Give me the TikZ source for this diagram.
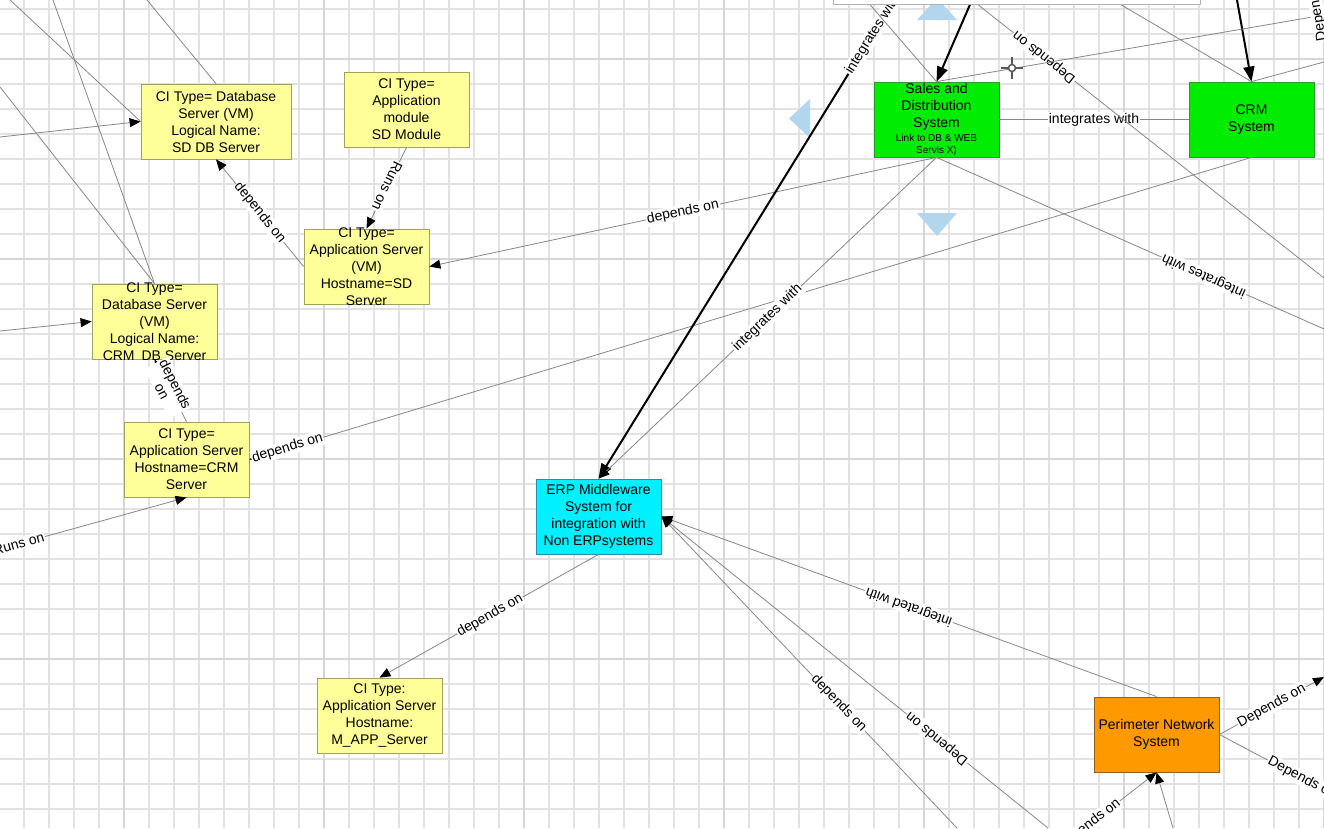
\documentclass[tikz,border=0pt]{standalone}
\usepackage{fontspec}
\setmainfont{Liberation Sans}
\usetikzlibrary{arrows.meta}

\definecolor{cifill}{RGB}{255,255,153}
\definecolor{ciline}{RGB}{160,160,96}
\definecolor{sysgreen}{RGB}{0,236,0}
\definecolor{greenline}{RGB}{50,150,50}
\definecolor{erpcyan}{RGB}{0,240,255}
\definecolor{cyanline}{RGB}{40,140,170}
\definecolor{perimorange}{RGB}{255,153,0}
\definecolor{orangeline}{RGB}{150,95,30}
\definecolor{gridgray}{RGB}{226,226,226}
\definecolor{gridmajor}{RGB}{214,214,214}
\definecolor{edgegray}{RGB}{135,135,135}
\definecolor{navblue}{RGB}{178,214,238}

\begin{document}
\begin{tikzpicture}[x=1pt,y=-1pt,
  cibox/.style={draw=ciline,fill=cifill,line width=.8pt,minimum width=125pt,minimum height=75pt,inner sep=0pt},
  sysbox/.style={cibox,draw=greenline,fill=sysgreen},
  erpbox/.style={cibox,draw=cyanline,fill=erpcyan},
  netbox/.style={cibox,draw=orangeline,fill=perimorange},
  boxtext/.style={align=center,inner sep=0pt,font=\fontsize{14}{17}\selectfont},
  link/.style={draw=edgegray,line width=.8pt},
  dep/.style={link,-{Triangle[length=11pt,width=9pt,color=black]}},
  heavy/.style={draw=black,line width=2pt,-{Triangle[length=15pt,width=11pt]}},
  elabel/.style={fill=white,inner sep=1pt,font=\fontsize{14}{15}\selectfont,text=black}]
 \useasboundingbox (0,0) rectangle (1324,828);
 \clip (0,0) rectangle (1324,828);
 \fill[white] (0,0) rectangle (1324,828);
 % grid
 \foreach \gx in {24,49,...,1324} \draw[gridgray,line width=1.4pt] (\gx,0) -- (\gx,828);
 \foreach \gy in {9,34,...,828} \draw[gridgray,line width=1.4pt] (0,\gy) -- (1324,\gy);
 \foreach \gx in {124,324,...,1324} \draw[gridmajor,line width=1.8pt] (\gx,0) -- (\gx,828);
 \foreach \gy in {59,259,...,828} \draw[gridmajor,line width=1.8pt] (0,\gy) -- (1324,\gy);

 % navigation marks
 \fill[navblue] (917,20) -- (957,20) -- (937,-2) -- cycle;
 \fill[navblue] (917,213) -- (957,213) -- (937,236) -- cycle;
 \fill[navblue] (810,99) -- (810,138) -- (789,118.5) -- cycle;

 % boxes
 \node[cibox,minimum width=150pt] (sddb) at (216,121.5) {};
 \node[boxtext] (sddb-t) at (sddb) {CI Type= Database\\Server (VM)\\Logical Name:\\SD DB Server};
 \node[cibox] (appmod) at (406.5,109.5) {};
 \node[boxtext] (appmod-t) at (appmod) {CI Type=\\Application\\module\\SD Module};
 \node[cibox] (sdapp) at (366.5,266.5) {};
 \node[boxtext] (sdapp-t) at (sdapp) {CI Type=\\Application Server\\(VM)\\Hostname=SD\\Server};
 \node[cibox] (crmdb) at (154.5,321.5) {};
 \node[boxtext] (crmdb-t) at (crmdb) {CI Type=\\Database Server\\(VM)\\Logical Name:\\CRM\enspace DB Server};
 \node[cibox] (crmapp) at (186.5,459.5) {};
 \node[boxtext] (crmapp-t) at (crmapp) {CI Type=\\Application Server\\Hostname=CRM\\Server};
 \node[erpbox] (erp) at (598.5,516.5) {};
 \node[boxtext] (erp-t) at (erp) {ERP Middleware\\System for\\integration with\\Non ERPsystems};
 \node[cibox] (mapp) at (379.5,715.5) {};
 \node[boxtext] (mapp-t) at (mapp) {CI Type:\\Application Server\\Hostname:\\M\_APP\_Server};
 \node[sysbox] (sales) at (936.5,119.5) {};
 \node[boxtext] (sales-t) at (sales) {Sales and\\Distribution\\System\\[-3pt]{\fontsize{10}{12}\selectfont Link to DB \& WEB}\\[-5pt]{\fontsize{10}{12}\selectfont Servis X)}};
 \node[sysbox] (crm) at (1251.5,119.5) {};
 \node[boxtext] (crm-t) at (crm) {CRM\\System};
 \node[netbox] (perim) at (1156.5,734.5) {};
 \node[boxtext] (perim-t) at (perim) {Perimeter Network\\System};

 % loose ends outside the view
 \coordinate (l1) at (0,137);
 \coordinate (l2) at (10,0);
 \coordinate (l3) at (53,0);
 \coordinate (l4) at (0,87);
 \coordinate (l5) at (147,0);
 \coordinate (l6) at (0,331);
 \coordinate (l7) at (0,549);
 \coordinate (t1) at (894,0);
 \coordinate (t2) at (866,0);
 \coordinate (t3) at (972,0);
 \coordinate (t5) at (1113,0);
 \coordinate (t6) at (1237,0);
 \coordinate (r1) at (1324,15);
 \coordinate (r2) at (1324,62);
 \coordinate (r3) at (1324,278);
 \coordinate (r4) at (1324,329);
 \coordinate (r5) at (1324,677);
 \coordinate (r6) at (1324,790);
 \coordinate (b1) at (957,828);
 \coordinate (b2) at (1048,828);
 \coordinate (b3) at (1085,828);
 \coordinate (b4) at (1173,828);

 % connectors
 \draw[dep] (l1) -- (sddb.west);
 \draw[link] (l2) -- (sddb.west);
 \draw[link] (l3) -- (crmdb.north);
 \draw[link] (l4) -- (crmdb.north);
 \draw[link] (l5) -- (sddb.north);
 \draw[dep] (l6) -- (crmdb.west);
 \draw[dep] (l7) -- (crmapp.south) node[elabel,pos=.1,rotate=16] {Runs on};
 \draw[dep] (sdapp.west) -- (sddb.south) node[elabel,pos=.5,rotate=-51] {depends on};
 \draw[dep] (appmod.south) -- (sdapp.north) node[elabel,pos=.48,rotate=-116] {Runs on};
 \draw[dep] (sales.south) -- (sdapp.east) node[elabel,pos=.5,rotate=12] {depends on};
 \draw[dep] (crmapp.north) -- (crmdb.south) node[elabel,align=center,pos=.55,rotate=-63] {depends\\on};
 \draw[dep] (crm.south) -- (crmapp.east) node[elabel,pos=.962,rotate=17] {depends on};
 \draw[heavy] (t1) -- (erp.north) node[elabel,pos=.072,rotate=58] {integrates with};
 \draw[dep] (sales.south) -- (erp.north) node[elabel,pos=.5,rotate=44] {integrates with};
 \draw[link] (sales.east) -- (crm.west) node[elabel,pos=.5] {integrates with};
 \draw[link] (sales.south) -- (r4) node[elabel,pos=.69,rotate=156] {integrates with};
 \draw[link] (t3) -- (r3) node[elabel,pos=.205,rotate=142] {Depends on};
 \draw[link] (t2) -- (sales.north);
 \draw[heavy] (t3) -- (sales.north);
 \draw[heavy] (t6) -- (crm.north);
 \draw[link] (sales.north) -- (r1);
 \draw[link] (crm.north) -- (t5);
 \draw[link] (crm.north) -- (r2);
 \draw[dep] (perim.north) -- (erp.east) node[elabel,pos=.5,rotate=160] {integrated with};
 \draw[dep] (b1) -- (erp.east) node[elabel,pos=.4,rotate=-46] {depends on};
 \draw[dep] (b2) -- (erp.east) node[elabel,pos=.287,rotate=141] {Depends on};
 \draw[dep] (perim.east) -- (r5) node[elabel,pos=.5,rotate=29] {Depends on};
 \draw[link] (perim.east) -- (r6) node[elabel,pos=.79,rotate=-28] {Depends on};
 \draw[dep] (b3) -- (perim.south) node[elabel,pos=.07,rotate=38] {depends on};
 \draw[dep] (b4) -- (perim.south);
 \draw[dep] (erp.south) -- (mapp.north) node[elabel,pos=.495,rotate=30] {depends on};
 \node[elabel,rotate=100] (cutlabel) at (1316,4) {Depends on};

 % cursor and top panel
 \draw[gray!70!black,line width=2pt] (1001,68) -- (1023,68) (1012,57) -- (1012,79);
 \draw[gray!70!black,fill=white,line width=1.5pt] (1012,68) circle (3.5);
 \draw[gray!60,fill=white] (833,-2) rectangle (1200,4);
\end{tikzpicture}
\end{document}
